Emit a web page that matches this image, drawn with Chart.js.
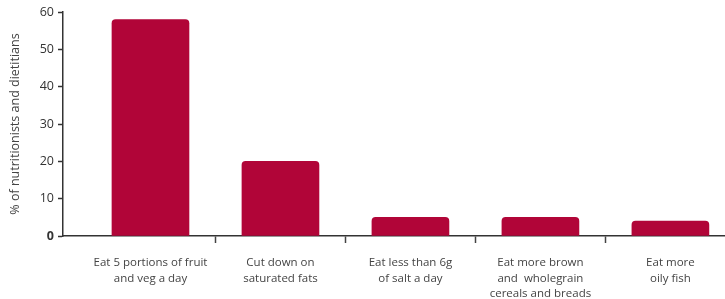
<!DOCTYPE html>
<html>
<head>
<meta charset="utf-8">
<script src="https://cdn.jsdelivr.net/npm/chart.js@4"></script>
<style>
html,body{margin:0;padding:0;background:#fff;}
#wrap{width:725px;height:299px;position:relative;}
</style>
</head>
<body>
<div id="wrap"><canvas id="c" width="725" height="299"></canvas></div>
<script>
const categories = [
  ["Eat 5 portions of fruit", "and veg a day"],
  ["Cut down on", "saturated fats"],
  ["Eat less than 6g", "of salt a day"],
  ["Eat more brown", "and  wholegrain", "cereals and breads"],
  ["Eat more", "oily fish"]
];
const values = [58, 20, 5, 5, 4];
const yTicks = [0, 10, 20, 30, 40, 50, 60];
const yTitle = "% of nutritionists and dietitians";

const FONT = "'Open Sans', 'DejaVu Sans', sans-serif";
const BAR = "#b10538";

const points = values.map((v, i) => ({x: i, y: v}));

new Chart(document.getElementById('c'), {
  type: 'bar',
  data: {
    datasets: [{
      data: points,
      backgroundColor: BAR,
      borderWidth: 0,
      borderRadius: {topLeft: 4, topRight: 4, bottomLeft: 0, bottomRight: 0},
      borderSkipped: 'bottom',
      barThickness: 77
    }]
  },
  options: {
    responsive: false,
    animation: false,
    layout: {padding: {top: 12, right: 0, bottom: 0, left: 0}},
    plugins: {legend: {display: false}, tooltip: {enabled: false}},
    scales: {
      x: {
        type: 'linear',
        offset: false,
        min: -0.673,
        max: 4.42,
        afterBuildTicks: (s) => {
          const t = [];
          for (let i = 0; i < categories.length; i++) {
            t.push({value: i});
            if (i < categories.length - 1) t.push({value: i + 0.5});
          }
          s.ticks = t;
        },
        afterFit: (s) => { s.height = 63; },
        border: {display: true, color: '#333', width: 1.5},
        grid: {
          offset: false,
          drawOnChartArea: false,
          drawTicks: true,
          tickLength: 7,
          tickWidth: 1.5,
          tickColor: (ctx) => (ctx.tick && ctx.tick.value % 1 !== 0) ? '#444' : 'rgba(0,0,0,0)'
        },
        ticks: {
          autoSkip: false,
          maxRotation: 0,
          minRotation: 0,
          padding: 12,
          color: '#444',
          font: {family: FONT, size: 11.5, lineHeight: 1.35},
          callback: (v) => (v % 1 === 0 && categories[v]) ? categories[v] : ''
        }
      },
      y: {
        min: 0,
        max: 60,
        afterBuildTicks: (s) => { s.ticks = yTicks.map(v => ({value: v})); },
        afterFit: (s) => { s.width = 63; },
        border: {display: true, color: '#333', width: 1.5},
        grid: {drawOnChartArea: false, drawTicks: true, tickLength: 5, tickWidth: 1.5, tickColor: '#333'},
        ticks: {
          padding: 4,
          color: '#333',
          font: (ctx) => ({family: FONT, size: 12.5, weight: (ctx.tick && ctx.tick.value === 0) ? 'bold' : 'normal'})
        },
        title: {
          display: true,
          text: yTitle,
          color: '#444',
          padding: {top: 8, bottom: 0},
          font: {family: FONT, size: 12.5}
        }
      }
    }
  }
});
</script>
</body>
</html>
